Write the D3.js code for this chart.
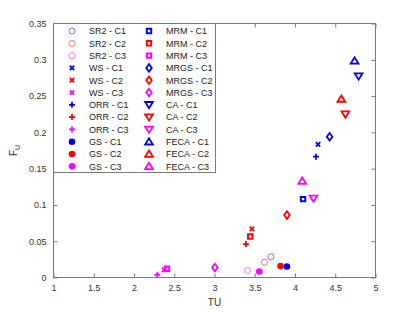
<!DOCTYPE html>
<html>
<head>
<meta charset="utf-8">
<script src="https://cdn.jsdelivr.net/npm/d3@7"></script>
<style>
  body { margin: 0; background: #fff; }
  text { font-family: "Liberation Sans", Arial, Helvetica, sans-serif; }
</style>
</head>
<body>
<script>
// data
const methods = ["SR2", "WS", "ORR", "GS", "MRM", "MRGS", "CA", "FECA"];
const cases = ["C1", "C2", "C3"];
const caseColors = ["#0000ff", "#ff0000", "#ff00ff"];
const markerTypes = ["openCircle", "cross", "plus", "dot", "square", "diamond", "triDown", "triUp"];

const tuValues = [
    [3.70, 3.62, 3.41],    // SR2
    [4.286, 3.465, 2.375], // WS
    [4.26, 3.39, 2.29],    // ORR
    [3.90, 3.82, 3.556],   // GS
    [4.10, 3.444, 2.41],   // MRM
    [4.43, 3.90, 3.005],   // MRGS
    [4.79, 4.626, 4.23],   // CA
    [4.74, 4.576, 4.09]    // FECA
];
const fuValues = [
    [0.0285, 0.021, 0.0096],
    [0.1835, 0.067, 0.0106],
    [0.1665, 0.046, 0.0037],
    [0.0151, 0.0157, 0.0083],
    [0.108, 0.0565, 0.012],
    [0.194, 0.086, 0.0138],
    [0.2775, 0.225, 0.109],
    [0.2985, 0.246, 0.133]
];
const xTicks = [1, 1.5, 2, 2.5, 3, 3.5, 4, 4.5, 5];
const yTicks = [0, 0.05, 0.1, 0.15, 0.2, 0.25, 0.3, 0.35];

const width = 415, height = 312;
const plotL = 53.5, plotR = 375.5, plotT = 23.5, plotB = 277.5;
const axisColor = "#7a7a7a", textColor = "#333";

const svg = d3.select('body')
    .append('svg')
    .attr('width', width)
    .attr('height', height);

const x = d3.scaleLinear().domain([1, 5]).range([plotL, plotR]);
const y = d3.scaleLinear().domain([0, 0.35]).range([plotB, plotT]);

// marker paths, centred on 0,0
function markerPath(type) {
    switch (type) {
        case "openCircle":
        case "dot":
            return d3.symbol(d3.symbolCircle, type === "dot" ? 34 : 30)();
        case "cross": return "M-2.2,-2.2L2.2,2.2M-2.2,2.2L2.2,-2.2";
        case "plus": return "M-3,0L3,0M0,-3L0,3";
        case "square": return "M-2.2,-2.2H2.2V2.2H-2.2Z";
        case "diamond": return "M0,-3.8L2.8,0L0,3.8L-2.8,0Z";
        case "triDown": return "M-3.9,-2.8L3.9,-2.8L0,3.5Z";
        case "triUp": return "M-3.9,2.8L3.9,2.8L0,-3.5Z";
    }
}
function styleMarker(sel, type, color) {
    const filled = type === "dot";
    sel.attr('d', markerPath(type))
        .attr('fill', filled ? color : 'none')
        .attr('stroke', filled ? 'none' : color)
        .attr('stroke-width', type === "openCircle" ? 0.7 : (type === "square" ? 2 : 1.8))
        .attr('stroke-opacity', type === "openCircle" ? 0.75 : 1);
}

// axes: ticks inward on all four sides
const xAxisB = d3.axisBottom(x).tickValues(xTicks).tickSize(-4).tickPadding(7).tickFormat(d3.format('~g'));
const xAxisT = d3.axisTop(x).tickValues(xTicks).tickSize(-4).tickFormat('');
const yAxisL = d3.axisLeft(y).tickValues(yTicks).tickSize(-4).tickPadding(7).tickFormat(d3.format('~g'));
const yAxisR = d3.axisRight(y).tickValues(yTicks).tickSize(-4).tickFormat('');

function drawAxis(g) {
    g.select('.domain').remove();
    g.selectAll('.tick line').attr('stroke', axisColor);
    g.selectAll('.tick text').attr('fill', textColor).style('font-size', '9px')
        .style('font-family', '"Liberation Sans", Arial, sans-serif');
}
svg.append('g').attr('transform', `translate(0,${plotB})`).call(xAxisB).call(drawAxis);
svg.append('g').attr('transform', `translate(0,${plotT})`).call(xAxisT).call(drawAxis);
svg.append('g').attr('transform', `translate(${plotL},0)`).call(yAxisL).call(drawAxis);
svg.append('g').attr('transform', `translate(${plotR},0)`).call(yAxisR).call(drawAxis);
svg.append('rect')
    .attr('x', plotL).attr('y', plotT)
    .attr('width', plotR - plotL).attr('height', plotB - plotT)
    .attr('fill', 'none').attr('stroke', axisColor);

// axis labels
svg.append('text')
    .attr('x', (plotL + plotR) / 2).attr('y', 306)
    .attr('text-anchor', 'middle')
    .style('font-size', '10px').attr('fill', textColor)
    .text('TU');
const yl = svg.append('text')
    .attr('transform', `translate(17,${(plotT + plotB) / 2}) rotate(-90)`)
    .attr('text-anchor', 'middle')
    .style('font-size', '10px').attr('fill', textColor);
yl.append('tspan').text('F');
yl.append('tspan').attr('dy', 3).style('font-size', '7px').text('U');

// points
const points = [];
methods.forEach((m, i) => cases.forEach((c, j) => {
    points.push({ type: markerTypes[i], color: caseColors[j], tu: tuValues[i][j], fu: fuValues[i][j] });
}));
svg.selectAll('path.pt')
    .data(points)
    .enter()
    .append('path')
    .attr('class', 'pt')
    .attr('transform', d => `translate(${x(d.tu)},${y(d.fu)})`)
    .each(function(d) { styleMarker(d3.select(this), d.type, d.color); });

// legend, two columns
const legend = svg.append('g');
legend.append('rect')
    .attr('x', plotL).attr('y', plotT)
    .attr('width', 162).attr('height', 149)
    .attr('fill', '#fff').attr('stroke', axisColor);
const rowH = 12.3;
methods.forEach((m, i) => cases.forEach((c, j) => {
    const col = i < 4 ? 0 : 1;
    const row = (i % 4) * 3 + j;
    const mx = col === 0 ? 72 : 149, ly = 31 + row * rowH;
    legend.append('path')
        .attr('transform', `translate(${mx},${ly})`)
        .call(sel => styleMarker(sel, markerTypes[i], caseColors[j]));
    legend.append('text')
        .attr('x', mx + 17).attr('y', ly + 3.3)
        .style('font-size', '9px').attr('fill', '#222')
        .text(m + ' - ' + c);
}));
</script>
</body>
</html>
